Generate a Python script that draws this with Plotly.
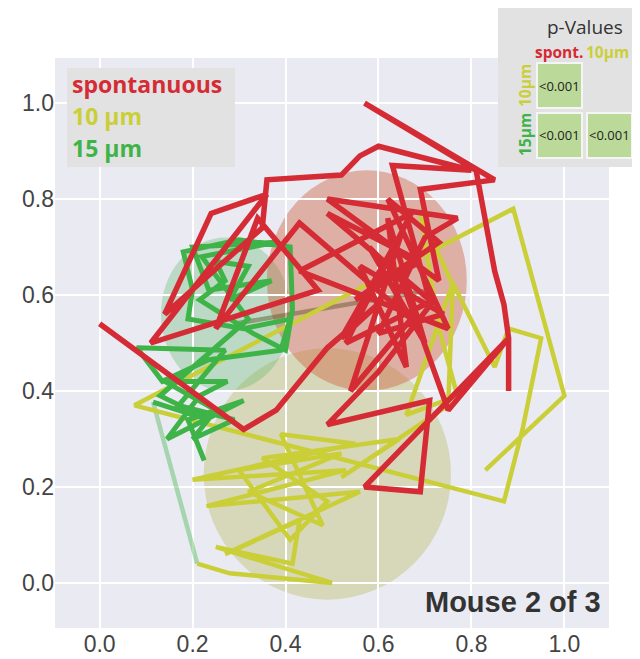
import plotly.graph_objects as go

# ---------------- data ----------------
conditions = ["spontanuous", "10 µm", "15 µm"]
colors = ["rgb(213,43,53)", "rgb(202,207,56)", "rgb(62,180,72)"]

red_x = [0.00, 0.31, 0.38, 0.49, 0.61, 0.52, 0.65, 0.54, 0.67, 0.43, 0.25, 0.34, 0.47, 0.11, 0.36, 0.24,
         0.14, 0.35, 0.36, 0.52, 0.56, 0.60, 0.80, 0.63, 0.71, 0.49, 0.69, 0.55, 0.73, 0.62, 0.75, 0.43,
         0.67, 0.53, 0.72, 0.60, 0.49, 0.71, 0.69, 0.57, 0.88, 0.75, 0.65, 0.58, 0.70, 0.62, 0.66, 0.56,
         0.74, 0.60, 0.70, 0.77, 0.49, 0.73, 0.69, 0.85, 0.57, 0.81, 0.85, 0.87, 0.88, 0.88]
red_y = [0.54, 0.32, 0.36, 0.49, 0.59, 0.51, 0.73, 0.40, 0.55, 0.75, 0.53, 0.76, 0.61, 0.50, 0.81, 0.77,
         0.56, 0.74, 0.84, 0.85, 0.89, 0.91, 0.86, 0.87, 0.59, 0.77, 0.67, 0.59, 0.71, 0.80, 0.53, 0.65,
         0.77, 0.50, 0.59, 0.44, 0.33, 0.38, 0.19, 0.20, 0.51, 0.36, 0.63, 0.70, 0.50, 0.76, 0.45, 0.66,
         0.56, 0.52, 0.72, 0.76, 0.80, 0.63, 0.82, 0.84, 1.00, 0.86, 0.65, 0.58, 0.51, 0.40]

yellow_x = [0.21, 0.28, 0.50, 0.25, 0.415, 0.43, 0.27, 0.56, 0.23, 0.53, 0.20, 0.55, 0.39, 0.48, 0.32,
            0.52, 0.30, 0.41, 0.49, 0.35, 0.645, 0.52, 0.75, 0.76, 0.69, 0.73, 0.77, 0.66, 0.76, 0.85,
            0.88, 0.95, 0.91, 0.87, 0.075, 0.89, 1.00, 0.83]
yellow_y = [0.04, 0.02, 0.00, 0.075, 0.04, 0.13, 0.06, 0.19, 0.16, 0.235, 0.215, 0.29, 0.31, 0.12, 0.19,
            0.27, 0.235, 0.09, 0.17, 0.26, 0.30, 0.22, 0.37, 0.62, 0.77, 0.53, 0.39, 0.35, 0.625, 0.45,
            0.53, 0.51, 0.32, 0.17, 0.37, 0.78, 0.39, 0.235]

green_x = [0.225, 0.19, 0.31, 0.145, 0.215, 0.275, 0.14, 0.25, 0.20, 0.29, 0.17, 0.27, 0.08, 0.135, 0.235,
           0.39, 0.41, 0.31, 0.19, 0.20, 0.18, 0.30, 0.41, 0.415, 0.40, 0.33, 0.215, 0.27, 0.25, 0.32,
           0.28, 0.37, 0.235, 0.20, 0.38, 0.22, 0.32, 0.13, 0.235, 0.115]
green_y = [0.255, 0.34, 0.38, 0.30, 0.39, 0.42, 0.42, 0.36, 0.30, 0.34, 0.37, 0.485, 0.49, 0.42, 0.465,
           0.485, 0.55, 0.53, 0.55, 0.61, 0.69, 0.715, 0.70, 0.57, 0.485, 0.52, 0.59, 0.63, 0.67, 0.66,
           0.59, 0.63, 0.61, 0.70, 0.71, 0.68, 0.55, 0.39, 0.34, 0.377]

# faint transition segments
fade_green_x = [0.115, 0.21]
fade_green_y = [0.377, 0.04]
fade_brown_x = [0.29, 0.71]
fade_brown_y = [0.54, 0.61]

# spread ellipses per condition
center_x = [0.575, 0.49, 0.272]
center_y = [0.63, 0.227, 0.56]
radius_x = [0.215, 0.266, 0.14]
radius_y = [0.23, 0.262, 0.16]
ellipse_fill = ["rgba(205,95,60,0.42)", "rgba(180,180,80,0.35)", "rgba(80,180,90,0.30)"]

tick_vals = [0.0, 0.2, 0.4, 0.6, 0.8, 1.0]
tick_text = ["0.0", "0.2", "0.4", "0.6", "0.8", "1.0"]

p_row_labels = ["10µm", "15µm"]
p_col_labels = ["spont.", "10µm"]
p_values = [["<0.001", None], ["<0.001", "<0.001"]]

title_text = "Mouse 2 of 3"

# ---------------- figure ----------------
OFF = 8  # page body margin
W, H = 640 - OFF, 659 - OFF
ML, MR, MT, MB = 55 - OFF, 31, 58 - OFF, 31


def fx(p):
    return (p - OFF - ML) / (W - ML - MR)


def fy(p):
    return (H - MB - (p - OFF)) / (H - MT - MB)


fig = go.Figure()

fig.add_trace(go.Scatter(x=fade_green_x, y=fade_green_y, mode="lines",
                         line=dict(color="rgba(62,180,72,0.4)", width=4.5), showlegend=False))
fig.add_trace(go.Scatter(x=fade_brown_x, y=fade_brown_y, mode="lines",
                         line=dict(color="rgba(90,80,30,0.45)", width=4.5), showlegend=False))
fig.add_trace(go.Scatter(x=yellow_x, y=yellow_y, mode="lines", name=conditions[1],
                         line=dict(color=colors[1], width=4.5), showlegend=False))
fig.add_trace(go.Scatter(x=green_x, y=green_y, mode="lines", name=conditions[2],
                         line=dict(color=colors[2], width=5), showlegend=False))
fig.add_trace(go.Scatter(x=red_x, y=red_y, mode="lines", name=conditions[0],
                         line=dict(color=colors[0], width=5.5), showlegend=False))

shapes = []
for i in [1, 2, 0]:
    shapes.append(dict(type="circle", xref="x", yref="y", layer="below",
                       x0=center_x[i] - radius_x[i], x1=center_x[i] + radius_x[i],
                       y0=center_y[i] - radius_y[i], y1=center_y[i] + radius_y[i],
                       fillcolor=ellipse_fill[i], line=dict(width=0)))

# legend box
shapes.append(dict(type="rect", xref="paper", yref="paper", x0=fx(67), x1=fx(235), y0=fy(167), y1=fy(68),
                   fillcolor="rgb(226,226,226)", line=dict(width=0), layer="above"))
# p-values box
shapes.append(dict(type="rect", xref="paper", yref="paper", x0=fx(498), x1=fx(642), y0=fy(167), y1=fy(8),
                   fillcolor="rgb(226,226,226)", line=dict(width=0), layer="above"))

annotations = []
leg_font = "Open Sans"
for i, yc in enumerate([84, 116, 148]):
    annotations.append(dict(xref="paper", yref="paper", x=fx(70), y=fy(yc), xanchor="left", yanchor="middle",
                            text="<b>" + conditions[i] + "</b>", showarrow=False,
                            font=dict(family=leg_font, size=23, color=colors[i])))

annotations.append(dict(xref="paper", yref="paper", x=fx(585), y=fy(27), xanchor="center", yanchor="middle",
                        text="p-Values", showarrow=False,
                        font=dict(family=leg_font, size=19, color="#333333")))
col_cx = [559, 607]
row_cy = [86, 135]
for j, lab in enumerate(p_col_labels):
    annotations.append(dict(xref="paper", yref="paper", x=fx(col_cx[j]), y=fy(52), xanchor="center",
                            yanchor="middle", text="<b>" + lab + "</b>", showarrow=False,
                            font=dict(family=leg_font, size=15.5, color=colors[j])))
for i, lab in enumerate(p_row_labels):
    annotations.append(dict(xref="paper", yref="paper", x=fx(525), y=fy(row_cy[i]), xanchor="center",
                            yanchor="middle", text="<b>" + lab + "</b>", showarrow=False, textangle=-90,
                            font=dict(family=leg_font, size=15.5, color=colors[i + 1])))
cell_x0 = [537, 587]
cell_y0 = [63, 113]
for i in range(2):
    for j in range(2):
        v = p_values[i][j]
        if v is None:
            continue
        x0, y0 = cell_x0[j], cell_y0[i]
        shapes.append(dict(type="rect", xref="paper", yref="paper", x0=fx(x0), x1=fx(x0 + 45),
                           y0=fy(y0 + 45), y1=fy(y0), fillcolor="rgb(187,217,152)",
                           line=dict(color="rgb(245,245,245)", width=2), layer="above"))
        annotations.append(dict(xref="paper", yref="paper", x=fx(x0 + 22.5), y=fy(y0 + 22.5),
                                xanchor="center", yanchor="middle", text=v, showarrow=False,
                                font=dict(family=leg_font, size=13, color="#222222")))

annotations.append(dict(xref="paper", yref="paper", x=fx(603), y=fy(602), xanchor="right", yanchor="middle",
                        text="<b>" + title_text + "</b>", showarrow=False,
                        font=dict(family="Liberation Sans, Arial", size=29, color="#333333")))

axis_common = dict(tickvals=tick_vals, ticktext=tick_text, showgrid=True, gridcolor="white", gridwidth=1.5,
                   zeroline=False, showline=False, ticks="", automargin=False,
                   tickfont=dict(family="Liberation Sans, Arial", size=23, color="#444444"))

fig.update_layout(
    width=W, height=H, autosize=False,
    margin=dict(l=ML, r=MR, t=MT, b=MB, pad=0, autoexpand=False),
    paper_bgcolor="white", plot_bgcolor="rgb(234,234,242)",
    xaxis=dict(range=[-0.096, 1.096], **axis_common),
    yaxis=dict(range=[-0.094, 1.094], **axis_common),
    shapes=shapes, annotations=annotations, showlegend=False,
)

fig.write_html("out.html")
